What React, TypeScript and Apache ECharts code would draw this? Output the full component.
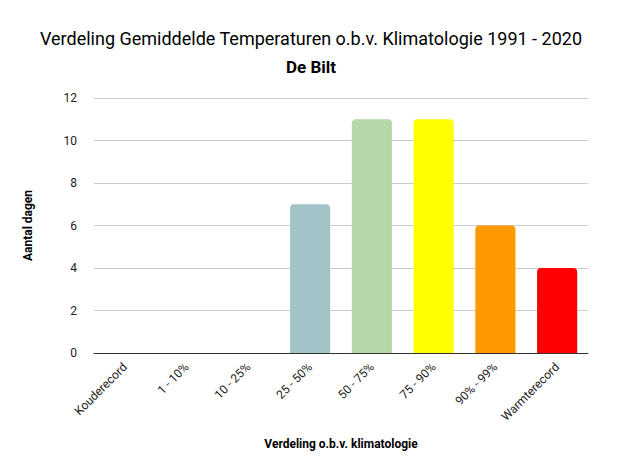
import React, { useEffect, useRef } from "react";
import * as echarts from "echarts";

const categories = [
  "Kouderecord",
  "1 - 10%",
  "10 - 25%",
  "25 - 50%",
  "50 - 75%",
  "75 - 90%",
  "90% - 99%",
  "Warmterecord",
];
const values = [0, 0, 0, 7, 11, 11, 6, 4];
const colors = ["#a2c4c9", "#a2c4c9", "#a2c4c9", "#a2c4c9", "#b6d7a8", "#ffff00", "#ff9900", "#ff0000"];

const App = () => {
  const chartRef = useRef<HTMLDivElement>(null);

  useEffect(() => {
    if (!chartRef.current) return;
    const chart = echarts.init(chartRef.current, undefined, { renderer: "svg" });
    const font = "Roboto, sans-serif";

    chart.setOption({
      animation: false,
      backgroundColor: "#ffffff",
      textStyle: { fontFamily: font },
      title: [
        {
          text: "Verdeling Gemiddelde Temperaturen o.b.v. Klimatologie 1991 - 2020",
          left: "center",
          top: 24,
          textStyle: { fontSize: 18, fontWeight: "normal", color: "#000", fontFamily: font },
        },
        {
          text: "De Bilt",
          left: "center",
          top: 53,
          textStyle: { fontSize: 17, fontWeight: "bold", color: "#000", fontFamily: font },
        },
      ],
      grid: { left: 94, right: 34, top: 98, bottom: 123 },
      xAxis: {
        type: "category",
        data: categories,
        name: "Verdeling o.b.v. klimatologie",
        nameLocation: "middle",
        nameGap: 85,
        nameTextStyle: { fontSize: 12, fontWeight: "bold", color: "#000" },
        axisTick: { show: false },
        axisLine: { lineStyle: { color: "#333" } },
        axisLabel: { rotate: 45, fontSize: 12, color: "#222", interval: 0, margin: 12 },
      },
      yAxis: {
        type: "value",
        min: 0,
        max: 12,
        interval: 2,
        name: "Aantal dagen",
        nameLocation: "middle",
        nameGap: 60,
        nameTextStyle: { fontSize: 12, fontWeight: "bold", color: "#000" },
        axisLabel: { fontSize: 12, color: "#222", margin: 17 },
        splitLine: { lineStyle: { color: "#ccc" } },
      },
      series: [
        {
          type: "bar",
          barWidth: "65%",
          data: values.map((v, i) => ({ value: v, itemStyle: { color: colors[i] } })),
          itemStyle: { borderRadius: [4, 4, 0, 0] },
        },
      ],
    });

    return () => chart.dispose();
  }, []);

  return <div ref={chartRef} style={{ width: 622, height: 476, position: "absolute", left: 0, top: 0 }} />;
};

export default App;
